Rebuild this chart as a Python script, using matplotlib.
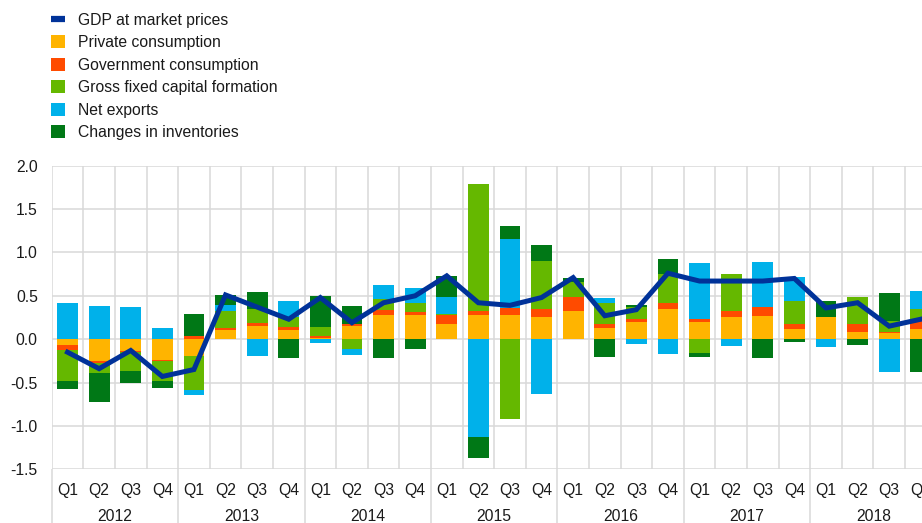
import numpy as np
import matplotlib.pyplot as plt
from matplotlib.patches import Patch
from matplotlib.lines import Line2D

plt.rcParams['font.family'] = ['Liberation Sans', 'DejaVu Sans']

# quarterly contributions to euro area GDP growth (percentage points)
years = ['2012', '2013', '2014', '2015', '2016', '2017', '2018']
quarters = ['Q1', 'Q2', 'Q3', 'Q4']

gdp = [-0.15, -0.34, -0.13, -0.43, -0.35, 0.51, 0.37, 0.23,
       0.48, 0.19, 0.42, 0.50, 0.73, 0.42, 0.39, 0.48,
       0.71, 0.27, 0.34, 0.76, 0.67, 0.67, 0.67, 0.70,
       0.36, 0.42, 0.15, 0.23]
private_cons = [-0.07, -0.25, -0.14, -0.24, -0.19, 0.10, 0.15, 0.11,
                0.015, 0.15, 0.28, 0.28, 0.17, 0.28, 0.28, 0.26,
                0.33, 0.13, 0.20, 0.35, 0.20, 0.26, 0.27, 0.12,
                0.26, 0.085, 0.07, 0.12]
gov_cons = [-0.06, -0.03, -0.01, -0.01, 0.04, 0.03, 0.04, 0.03,
            0.02, 0.03, 0.06, 0.03, 0.11, 0.05, 0.08, 0.09,
            0.16, 0.05, 0.03, 0.07, 0.03, 0.07, 0.10, 0.05,
            0.0, 0.09, 0.01, 0.10]
gfcf = [-0.35, -0.11, -0.22, -0.23, -0.40, 0.20, 0.16, 0.11,
        0.105, -0.11, 0.12, 0.11, 0.01, 1.46, -0.92, 0.55,
        0.17, 0.24, 0.14, 0.33, -0.16, 0.42, 0.0, 0.27,
        0.0, 0.31, 0.13, 0.13]
net_exports = [0.42, 0.38, 0.37, 0.13, -0.05, 0.06, -0.19, 0.19,
               -0.04, -0.07, 0.17, 0.17, 0.20, -1.13, 0.79, -0.63,
               0.0, 0.05, -0.05, -0.17, 0.65, -0.08, 0.52, 0.28,
               -0.09, 0.0, -0.38, 0.20]
inventories = [-0.10, -0.33, -0.13, -0.08, 0.25, 0.12, 0.19, -0.22,
               0.36, 0.20, -0.22, -0.11, 0.24, -0.24, 0.15, 0.19,
               0.04, -0.20, 0.02, 0.18, -0.05, 0.0, -0.22, -0.03,
               0.18, -0.07, 0.32, -0.38]

labels = ['Private consumption', 'Government consumption',
          'Gross fixed capital formation', 'Net exports',
          'Changes in inventories']
colors = ['#FFB400', '#FF4B00', '#65B800', '#00B1EA', '#007816']
gdp_color = '#003299'
grid_color = '#d9d9d9'
text_color = '#1a1a1a'
fs = 11.3

series = [private_cons, gov_cons, gfcf, net_exports, inventories]
n = len(gdp)
x = np.arange(n)

fig = plt.figure(figsize=(9.22, 5.23), dpi=100)
ax = fig.add_axes([0.0561, 0.1027, 0.9597, 0.5805])

# stacked bars, positives and negatives stacked separately
pos_base = np.zeros(n)
neg_base = np.zeros(n)
for vals, col in zip(series, colors):
    v = np.array(vals)
    base = np.where(v >= 0, pos_base, neg_base)
    ax.bar(x, v, bottom=base, width=0.66, color=col, zorder=2, linewidth=0)
    pos_base += np.where(v >= 0, v, 0)
    neg_base += np.where(v < 0, v, 0)

ax.plot(x, gdp, color=gdp_color, linewidth=3.6, zorder=3,
        solid_joinstyle='miter')

ax.set_xlim(-0.5, n - 0.5)
ax.set_ylim(-1.5, 2.0)
ax.set_yticks(np.arange(-1.5, 2.01, 0.5))
ax.set_yticklabels([f'{v:.1f}' for v in np.arange(-1.5, 2.01, 0.5)])

# grid: horizontal at every tick, vertical at each quarter boundary
for yv in np.arange(-1.5, 2.01, 0.5):
    ax.axhline(yv, color=grid_color, linewidth=1.1, zorder=1)
for xv in np.arange(-0.5, n, 1.0):
    ax.axvline(xv, color=grid_color, linewidth=1.1, zorder=1)

# year separators below the axis
ax.vlines(np.arange(-0.5, n, 4.0), -0.18, 0, transform=ax.get_xaxis_transform(),
          color=grid_color, linewidth=1.1, clip_on=False)

ax.set_xticks(x)
ax.set_xticklabels(quarters * len(years))
for i, yr in enumerate(years):
    ax.text(i * 4 + 1.5, -0.155, yr, transform=ax.get_xaxis_transform(),
            ha='center', va='center', fontsize=fs, color=text_color)

ax.tick_params(axis='both', length=0, labelsize=fs, colors=text_color)
ax.tick_params(axis='x', pad=10)
ax.tick_params(axis='y', pad=10)
for s in ax.spines.values():
    s.set_visible(False)

handles = [Line2D([0], [0], color=gdp_color, linewidth=4.5, solid_capstyle='butt')]
handles += [Patch(facecolor=c, edgecolor='none') for c in colors]
fig.legend(handles, ['GDP at market prices'] + labels, loc='upper left',
           bbox_to_anchor=(51 / 922, 1 - 13 / 523), frameon=False,
           fontsize=fs, handlelength=0.9, handleheight=0.9,
           handletextpad=0.8, labelspacing=0.47, borderpad=0,
           borderaxespad=0, labelcolor=text_color)

fig.savefig('out.png', dpi=100)
